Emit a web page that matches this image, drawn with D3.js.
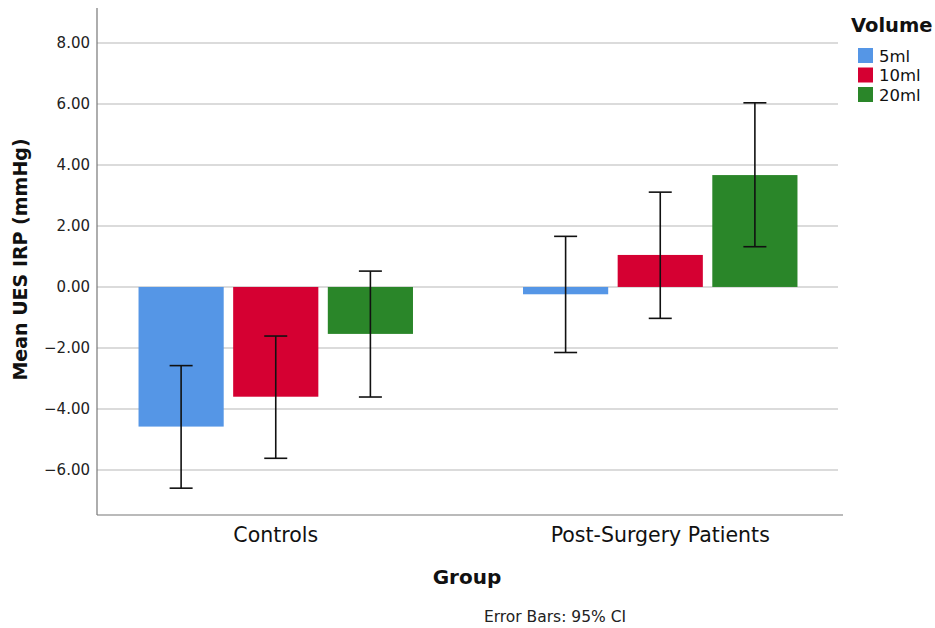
<!DOCTYPE html>
<html><head><meta charset="utf-8">
<script src="https://cdn.jsdelivr.net/npm/d3@7"></script>
<style>body{margin:0;background:#fff;} svg{display:block;}</style>
</head><body>
<svg id="chart" width="935" height="628"></svg>
<script>
const groups = ["Controls", "Post-Surgery Patients"];
const volumes = ["5ml", "10ml", "20ml"];
const colors = ["#5596e6", "#d50032", "#2a8629"];
const meanControls = [-4.58, -3.60, -1.54];
const meanPost = [-0.24, 1.05, 3.67];
const lowControls = [-6.60, -5.62, -3.61];
const lowPost = [-2.15, -1.03, 1.32];
const highControls = [-2.58, -1.61, 0.52];
const highPost = [1.66, 3.11, 6.04];
const yTicks = [-6, -4, -2, 0, 2, 4, 6, 8];

const rows = [];
[[meanControls, lowControls, highControls], [meanPost, lowPost, highPost]].forEach((s, gi) => {
  volumes.forEach((v, vi) => rows.push({group: groups[gi], vol: v, mean: s[0][vi], lo: s[1][vi], hi: s[2][vi], color: colors[vi]}));
});

const svg = d3.select("#chart");
const L = 97, R = 843, T = 8, B = 515;
const font = "'DejaVu Sans', sans-serif";

const y = d3.scaleLinear().domain([-7.48, 9.15]).range([B, T]);
const x0 = d3.scaleBand().domain(groups).range([L, R - 4]).paddingInner(0.2862).paddingOuter(0.108);
const x1 = d3.scaleBand().domain(volumes).range([0, x0.bandwidth()]).paddingInner(0.1).paddingOuter(0);

// gridlines
svg.append("g").selectAll("line").data(yTicks).join("line")
  .attr("x1", L).attr("x2", R - 5).attr("y1", d => y(d)).attr("y2", d => y(d))
  .attr("stroke", "#cfcfcf").attr("stroke-width", 1.5);

// y axis
const yAxis = svg.append("g").attr("transform", `translate(${L},0)`)
  .call(d3.axisLeft(y).tickValues(yTicks).tickFormat(d3.format(".2f")).tickSize(0).tickPadding(7));
yAxis.select(".domain").remove();
yAxis.selectAll("text").attr("font-family", font).attr("font-size", 15).attr("fill", "#222");
svg.append("line").attr("x1", L).attr("x2", L).attr("y1", T).attr("y2", B).attr("stroke", "#777").attr("stroke-width", 1.2);

// bars
svg.append("g").selectAll("rect").data(rows).join("rect")
  .attr("x", d => x0(d.group) + x1(d.vol))
  .attr("width", x1.bandwidth())
  .attr("y", d => y(Math.max(0, d.mean)))
  .attr("height", d => Math.abs(y(d.mean) - y(0)))
  .attr("fill", d => d.color);

// error bars
const eb = svg.append("g").attr("stroke", "#111").attr("stroke-width", 1.6);
const cx = d => x0(d.group) + x1(d.vol) + x1.bandwidth() / 2;
eb.selectAll(".v").data(rows).join("line").attr("class", "v")
  .attr("x1", cx).attr("x2", cx).attr("y1", d => y(d.lo)).attr("y2", d => y(d.hi));
eb.selectAll(".t").data(rows).join("line").attr("class", "t")
  .attr("x1", d => cx(d) - 11.5).attr("x2", d => cx(d) + 11.5).attr("y1", d => y(d.hi)).attr("y2", d => y(d.hi));
eb.selectAll(".b").data(rows).join("line").attr("class", "b")
  .attr("x1", d => cx(d) - 11.5).attr("x2", d => cx(d) + 11.5).attr("y1", d => y(d.lo)).attr("y2", d => y(d.lo));

// x axis
svg.append("line").attr("x1", L).attr("x2", R).attr("y1", B).attr("y2", B).attr("stroke", "#777").attr("stroke-width", 1.2);
const xAxis = svg.append("g").attr("transform", `translate(0,${B})`)
  .call(d3.axisBottom(x0).tickSize(0).tickPadding(12));
xAxis.select(".domain").remove();
xAxis.selectAll("text").attr("font-family", font).attr("font-size", 20.5).attr("fill", "#111");

// axis titles
svg.append("text").attr("x", (L + R) / 2 - 3).attr("y", 584).attr("text-anchor", "middle")
  .attr("font-family", font).attr("font-weight", "bold").attr("font-size", 20).attr("fill", "#111").text("Group");
svg.append("text").attr("transform", `translate(27,${(T + B) / 2 - 2}) rotate(-90)`).attr("text-anchor", "middle")
  .attr("font-family", font).attr("font-weight", "bold").attr("font-size", 19).attr("fill", "#111").text("Mean UES IRP (mmHg)");
svg.append("text").attr("x", 555).attr("y", 622).attr("text-anchor", "middle")
  .attr("font-family", font).attr("font-size", 15.5).attr("fill", "#222").text("Error Bars: 95% CI");

// legend
svg.append("text").attr("x", 851).attr("y", 32).attr("font-family", font).attr("font-weight", "bold")
  .attr("font-size", 19.5).attr("fill", "#111").text("Volume");
const lg = svg.append("g").selectAll("g").data(volumes).join("g")
  .attr("transform", (d, i) => `translate(858,${48 + i * 19.5})`);
lg.append("rect").attr("width", 15).attr("height", 15).attr("fill", (d, i) => colors[i]);
lg.append("text").attr("x", 21).attr("y", 13.5).attr("font-family", font).attr("font-size", 16.5).attr("fill", "#111").text(d => d);
</script>
</body></html>
